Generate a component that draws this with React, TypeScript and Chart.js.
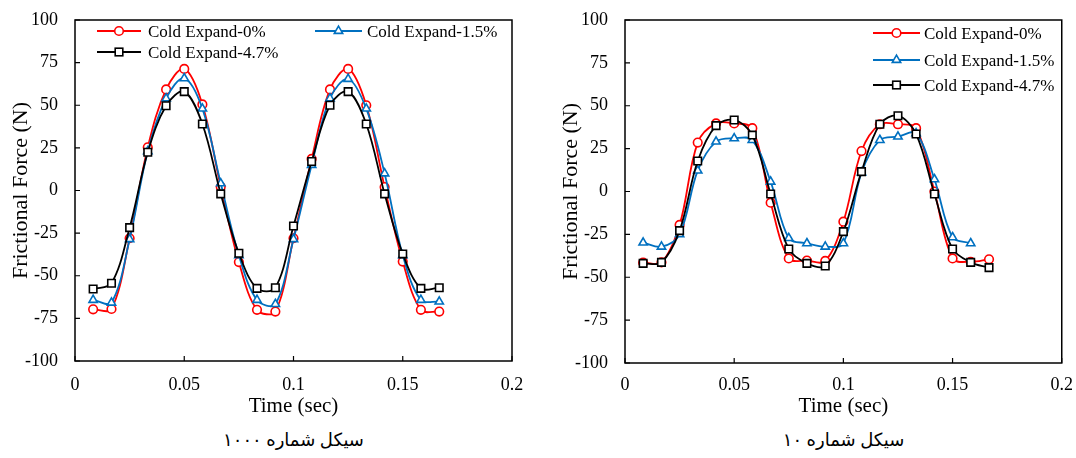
import React, { useEffect, useRef } from "react";
import { Chart, registerables } from "chart.js";

Chart.register(...registerables);

// ---------- data ----------
const time = [
  0.0083, 0.0167, 0.025, 0.0333, 0.0417, 0.05, 0.0583, 0.0667, 0.075, 0.0833,
  0.0917, 0.1, 0.1083, 0.1167, 0.125, 0.1333, 0.1417, 0.15, 0.1583, 0.1667,
];
const xTickLabels = ["0", "0.05", "0.1", "0.15", "0.2"];
const yTickLabels = ["-100", "-75", "-50", "-25", "0", "25", "50", "75", "100"];
const seriesNames = ["Cold Expand-0%", "Cold Expand-1.5%", "Cold Expand-4.7%"];
const xTitle = "Time (sec)";
const yTitle = "Frictional Force (N)";
const captions = ["سیکل شماره ۱۰۰۰", "سیکل شماره ۱۰"];

// cycle 1000
const c1000_0 = [-69.7, -69.5, -28, 25.3, 59.3, 71.3, 50.5, 2.2, -42, -70, -71, -28, 18.5, 59.3, 71.3, 50, 2, -41.7, -70, -71];
const c1000_15 = [-64.2, -65.8, -28.6, 23, 54, 65.8, 48, 4.2, -38, -64.2, -66.6, -28.6, 15, 54, 65.4, 48, 10, -38, -64.2, -65.2];
const c1000_47 = [-57.8, -54.4, -21.8, 22.4, 49.7, 58, 39, -2, -36.8, -57.4, -57, -20.8, 17, 50, 58, 39, -2, -37.2, -57.4, -57];

// cycle 10
const c10_0 = [-41.5, -41.3, -19.5, 28.5, 39.7, 39.7, 36.9, -6.5, -39, -40.3, -40.5, -17.6, 23.6, 39.2, 39.2, 36.9, 0, -39, -41, -39.5];
const c10_15 = [-29.8, -32.2, -25, 12.2, 29.1, 31, 30, 5.7, -27.2, -30.2, -32.2, -30.2, 11, 30, 32, 33.9, 7.1, -26.7, -30.2];
const c10_47 = [-41.9, -41.3, -22.8, 17.8, 38.4, 41.7, 32.9, -1.5, -33.5, -41.9, -43.4, -23.4, 11.6, 39.2, 44.2, 33.5, -1.5, -33.5, -41.3, -44.4];

// ---------- styles ----------
const COLORS = ["#FF0000", "#0070C0", "#000000"];
const POINT_STYLES = ["circle", "triangle", "rect"];
const POINT_RADII = [4.3, 4.8, 5.3];
const SERIF = '"Liberation Serif", "Times New Roman", serif';

const framePlugin = {
  id: "frame",
  beforeDatasetsDraw(chart: any) {
    const { ctx, chartArea } = chart;
    const { left, right, top, bottom } = chartArea;
    ctx.save();
    ctx.strokeStyle = "#000";
    ctx.lineWidth = 1.5;
    ctx.strokeRect(left, top, right - left, bottom - top);
    ctx.lineWidth = 1.2;
    const xs = chart.scales.x;
    const ys = chart.scales.y;
    ctx.beginPath();
    xs.ticks.forEach((t: any) => {
      const px = xs.getPixelForValue(t.value);
      ctx.moveTo(px, bottom);
      ctx.lineTo(px, bottom - 5);
    });
    ys.ticks.forEach((t: any) => {
      const py = ys.getPixelForValue(t.value);
      ctx.moveTo(left, py);
      ctx.lineTo(left + 5, py);
    });
    ctx.stroke();
    ctx.restore();
  },
};

type ChartProps = {
  left: number;
  width: number;
  height: number;
  padRight: number;
  xAxisHeight: number;
  xTickPad: number;
  series: number[][];
};

function FrictionChart({ left, width, height, padRight, xAxisHeight, xTickPad, series }: ChartProps) {
  const ref = useRef<HTMLCanvasElement | null>(null);
  useEffect(() => {
    if (!ref.current) return;
    const datasets = series.map((vals, si) => ({
      label: seriesNames[si],
      data: vals.map((v, i) => ({ x: time[i], y: v })),
      borderColor: COLORS[si],
      backgroundColor: "#ffffff",
      borderWidth: 1.8,
      pointStyle: POINT_STYLES[si],
      pointRadius: POINT_RADII[si],
      pointBorderWidth: 1.6,
      pointBackgroundColor: "#ffffff",
      pointBorderColor: COLORS[si],
      tension: 0.35,
      order: 3 - si,
    }));
    const chart = new Chart(ref.current, {
      type: "line",
      data: { datasets } as any,
      options: {
        animation: false,
        responsive: false,
        events: [],
        layout: { padding: { left: 0, top: 20, right: padRight, bottom: 0 } },
        plugins: { legend: { display: false }, tooltip: { enabled: false } },
        scales: {
          x: {
            type: "linear",
            min: 0,
            max: 0.2,
            grid: { display: false },
            border: { display: false },
            ticks: {
              stepSize: 0.05,
              padding: xTickPad,
              color: "#000",
              font: { family: SERIF, size: 18 },
              callback: (_v: any, i: number) => xTickLabels[i],
            },
            title: {
              display: true,
              text: xTitle,
              color: "#000",
              font: { family: SERIF, size: 21 },
              padding: { top: 0, bottom: 6.4 },
            },
            afterFit: (s: any) => {
              s.height = xAxisHeight;
            },
          },
          y: {
            type: "linear",
            min: -100,
            max: 100,
            grid: { display: false },
            border: { display: false },
            ticks: {
              stepSize: 25,
              padding: 9,
              color: "#000",
              font: { family: SERIF, size: 18 },
              callback: (_v: any, i: number) => yTickLabels[i],
            },
            title: {
              display: true,
              text: yTitle,
              color: "#000",
              font: { family: SERIF, size: 22 },
              padding: { top: 8, bottom: 0 },
            },
            afterFit: (s: any) => {
              s.width = 75;
            },
          },
        },
      } as any,
      plugins: [framePlugin],
    });
    return () => chart.destroy();
  }, []);
  return (
    <canvas
      ref={ref}
      width={width}
      height={height}
      style={{ position: "absolute", left, top: 0, width, height }}
    />
  );
}

function Marker({ kind, color }: { kind: number; color: string }) {
  if (kind === 0) return <circle cx={0} cy={0} r={4.3} fill="#fff" stroke={color} strokeWidth={1.6} />;
  if (kind === 1)
    return <polygon points="0,-4.8 4.2,2.4 -4.2,2.4" fill="#fff" stroke={color} strokeWidth={1.6} />;
  return <rect x={-3.8} y={-3.8} width={7.6} height={7.6} fill="#fff" stroke={color} strokeWidth={1.6} />;
}

function LegendItem({ idx, lineX, lineW, textX, y }: { idx: number; lineX: number; lineW: number; textX: number; y: number }) {
  const color = COLORS[idx];
  return (
    <>
      <svg
        width={lineW}
        height={14}
        style={{ position: "absolute", left: lineX, top: y - 7, overflow: "visible" }}
      >
        <line x1={0} y1={7} x2={lineW} y2={7} stroke={color} strokeWidth={1.8} />
        <g transform={`translate(${lineW / 2},7)`}>
          <Marker kind={idx} color={color} />
        </g>
      </svg>
      <div
        style={{
          position: "absolute",
          left: textX,
          top: y - 10,
          fontFamily: SERIF,
          fontSize: 17,
          lineHeight: "22px",
          whiteSpace: "nowrap",
          color: "#000",
        }}
      >
        {seriesNames[idx]}
      </div>
    </>
  );
}

function Caption({ cx, text }: { cx: number; text: string }) {
  return (
    <div
      dir="rtl"
      style={{
        position: "absolute",
        left: cx - 150,
        width: 300,
        top: 427,
        textAlign: "center",
        fontFamily: '"Liberation Serif", "DejaVu Sans", serif',
        fontSize: 18,
        lineHeight: "26px",
        color: "#000",
      }}
    >
      {text}
    </div>
  );
}

export default function App() {
  return (
    <div style={{ position: "absolute", left: 0, top: 0, width: 1076, height: 458, background: "#fff", overflow: "hidden" }}>
      <FrictionChart
        left={0}
        width={540}
        height={425}
        padRight={28}
        xAxisHeight={64}
        xTickPad={5}
        series={[c1000_0, c1000_15, c1000_47]}
      />
      <FrictionChart
        left={550}
        width={526}
        height={425}
        padRight={14}
        xAxisHeight={62}
        xTickPad={3}
        series={[c10_0, c10_15, c10_47]}
      />
      <LegendItem idx={0} lineX={97} lineW={44} textX={148} y={31} />
      <LegendItem idx={1} lineX={315} lineW={47} textX={367} y={31} />
      <LegendItem idx={2} lineX={97} lineW={44} textX={148} y={52} />
      <LegendItem idx={0} lineX={873} lineW={47} textX={924} y={33} />
      <LegendItem idx={1} lineX={873} lineW={47} textX={924} y={60} />
      <LegendItem idx={2} lineX={873} lineW={47} textX={924} y={85} />
      <Caption cx={293.5} text={captions[0]} />
      <Caption cx={843.5} text={captions[1]} />
    </div>
  );
}
